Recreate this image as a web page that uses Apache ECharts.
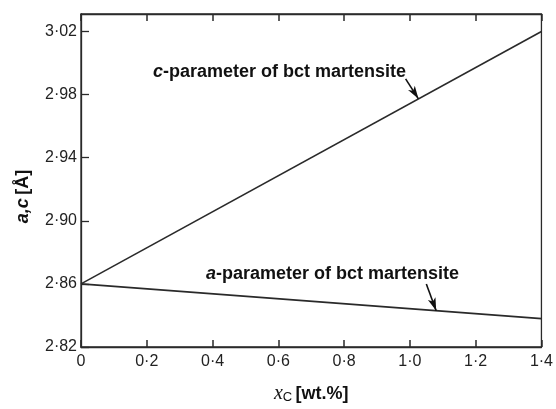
<!DOCTYPE html>
<html>
<head>
<meta charset="utf-8">
<script src="https://cdn.jsdelivr.net/npm/echarts@6/dist/echarts.min.js"></script>
<style>
  html, body { margin: 0; padding: 0; background: #fff; }
  #chart { width: 556px; height: 409px; }
</style>
</head>
<body>
<div id="chart"></div>
<script>
// Carbon content (wt.%) and lattice parameters of bct martensite (Å)
const carbon = [0, 1.4];
const cParam = [2.86, 3.02];
const aParam = [2.86, 2.838];

// Axis tick positions
const xTicks = [0, 0.2, 0.4, 0.6, 0.8, 1.0, 1.2, 1.4];
const yTicks = [2.82, 2.86, 2.90, 2.94, 2.98, 3.02];

// Arrow pointers: [start, tip] in data units
const cArrow = [[0.987, 2.990], [1.026, 2.9773]];
const aArrow = [[1.050, 2.8600], [1.080, 2.8430]];

const ink = '#2a2a2a';
const tickFont = { fontFamily: 'Liberation Sans', fontSize: 16, color: '#222' };

function dotFmt(v, digits) {
  if (Math.abs(v) < 1e-9) return '0';
  return v.toFixed(digits).replace('.', '\u00b7');
}

function arrowLine(pts) {
  return [
    { coord: pts[0], symbol: 'none' },
    { coord: pts[1], symbol: 'arrow', symbolSize: [6, 13] }
  ];
}

const boldText = { fontFamily: 'Liberation Sans', fontWeight: 'bold', fontSize: 18, fill: '#111' };
const boldItalic = { ...boldText, fontStyle: 'italic' };

const chart = echarts.init(document.getElementById('chart'), null, { renderer: 'canvas' });

chart.setOption({
  animation: false,
  backgroundColor: '#fff',
  grid: { left: 81, right: 7, top: 14, bottom: 54, show: true, borderColor: ink, borderWidth: 1.3 },
  xAxis: [{
    type: 'value', min: 0, max: 1.4, position: 'bottom',
    axisLine: { show: true, lineStyle: { color: ink, width: 1.3 } },
    axisTick: { show: true, inside: true, length: 7, lineStyle: { color: ink, width: 1.5 }, customValues: xTicks },
    axisLabel: { ...tickFont, margin: 7, customValues: xTicks, formatter: v => dotFmt(v, 1) },
    splitLine: { show: false },
    name: '{x|x}{sub|C} {b|[wt.%]}',
    nameLocation: 'middle', nameGap: 37,
    nameTextStyle: {
      rich: {
        x: { fontFamily: 'Liberation Serif', fontStyle: 'italic', fontSize: 20, color: '#111' },
        sub: { fontFamily: 'Liberation Sans', fontSize: 13, color: '#111', verticalAlign: 'bottom', padding: [7, 0, 0, 0] },
        b: { fontFamily: 'Liberation Sans', fontWeight: 'bold', fontSize: 18, color: '#111' }
      }
    }
  }, {
    type: 'value', min: 0, max: 1.4, position: 'top',
    axisLine: { show: true, lineStyle: { color: ink, width: 1.3 } },
    axisTick: { show: true, inside: true, length: 7, lineStyle: { color: ink, width: 1.5 }, customValues: xTicks },
    axisLabel: { show: false },
    splitLine: { show: false }
  }],
  yAxis: {
    type: 'value', min: 2.82, max: 3.0311,
    axisLine: { show: true, lineStyle: { color: ink, width: 1.3 } },
    axisTick: { show: true, inside: true, length: 8, lineStyle: { color: ink, width: 1.3 }, customValues: yTicks },
    axisLabel: { ...tickFont, margin: 4, customValues: yTicks, formatter: v => dotFmt(v, 2) },
    splitLine: { show: false },
    name: '{i|a,c} {b|[Å]}',
    nameLocation: 'middle', nameGap: 49, nameRotate: 90,
    nameTextStyle: {
      padding: [0, 32, 0, 0],
      rich: {
        i: { fontFamily: 'Liberation Sans', fontWeight: 'bold', fontStyle: 'italic', fontSize: 18, color: '#111' },
        b: { fontFamily: 'Liberation Sans', fontWeight: 'bold', fontSize: 18, color: '#111' }
      }
    }
  },
  series: [{
    name: 'c-parameter', type: 'line', xAxisIndex: 0,
    data: carbon.map((x, i) => [x, cParam[i]]),
    symbol: 'none', lineStyle: { color: ink, width: 1.6 },
    markLine: {
      silent: true, symbol: ['none', 'arrow'],
      lineStyle: { color: '#111', width: 1.6, type: 'solid' },
      label: { show: false },
      data: [arrowLine(cArrow)]
    }
  }, {
    name: 'a-parameter', type: 'line', xAxisIndex: 0,
    data: carbon.map((x, i) => [x, aParam[i]]),
    symbol: 'none', lineStyle: { color: ink, width: 1.6 },
    markLine: {
      silent: true, symbol: ['none', 'arrow'],
      lineStyle: { color: '#111', width: 1.6, type: 'solid' },
      label: { show: false },
      data: [arrowLine(aArrow)]
    }
  }],
  graphic: [{
    type: 'text', left: 153, top: 63,
    style: {
      text: '{i|c}{b|-parameter of bct martensite}',
      rich: { i: boldItalic, b: boldText }
    }
  }, {
    type: 'text', left: 206, top: 265,
    style: {
      text: '{i|a}{b|-parameter of bct martensite}',
      rich: { i: boldItalic, b: boldText }
    }
  }]
});
</script>
</body>
</html>
